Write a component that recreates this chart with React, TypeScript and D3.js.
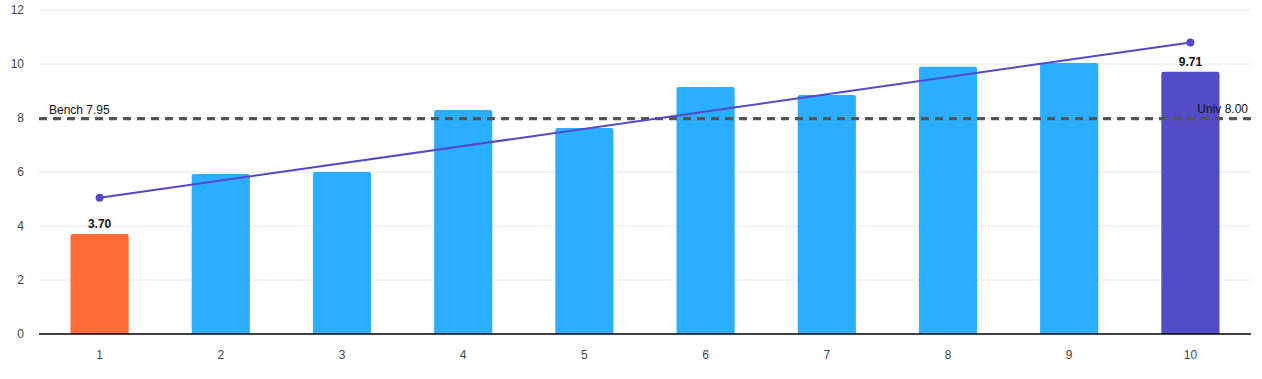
import React from "react";
import * as d3 from "d3";

const categories = ["1", "2", "3", "4", "5", "6", "7", "8", "9", "10"];
const values = [3.7, 5.93, 6.0, 8.3, 7.63, 9.15, 8.85, 9.9, 10.04, 9.71];
const yTicks = [0, 2, 4, 6, 8, 10, 12];
const benchValue = 7.95;
const univValue = 8.0;
const labeledIdx = [0, 9];

const W = 1262;
const H = 379;
const M = { left: 39, right: 11, top: 10, bottom: 45 };

export default function App() {
  const x = d3
    .scaleBand<string>()
    .domain(categories)
    .range([M.left, W - M.right])
    .paddingInner(0.52)
    .paddingOuter(0.26);
  const y = d3.scaleLinear().domain([0, 12]).range([H - M.bottom, M.top]);

  const n = values.length;
  const xs = values.map((_, i) => i + 1);
  const mx = d3.mean(xs)!;
  const my = d3.mean(values)!;
  const slope =
    d3.sum(xs.map((xv, i) => (xv - mx) * (values[i] - my))) /
    d3.sum(xs.map((xv) => (xv - mx) ** 2));
  const icpt = my - slope * mx;
  const trend = [1, n].map((xv) => ({ cat: String(xv), v: icpt + slope * xv }));
  const cx = (c: string) => x(c)! + x.bandwidth() / 2;

  const colorFor = (i: number) =>
    i === 0 ? "#FF6B35" : i === n - 1 ? "#524DC6" : "#2BAEFF";

  const barPath = (x0: number, y0: number, w: number, h: number, r: number) =>
    `M${x0},${y0 + h}V${y0 + r}Q${x0},${y0} ${x0 + r},${y0}H${x0 + w - r}Q${x0 + w},${y0} ${x0 + w},${y0 + r}V${y0 + h}Z`;

  const line = d3
    .line<{ cat: string; v: number }>()
    .x((d) => cx(d.cat))
    .y((d) => y(d.v));

  const font = "'Liberation Sans', Arial, sans-serif";

  return (
    <svg
      width={W}
      height={H}
      style={{ position: "absolute", left: 0, top: 0, background: "#fff" }}
      fontFamily={font}
    >
      {yTicks.map((t) => (
        <g key={t}>
          {t !== 0 && (
            <line x1={M.left} x2={W - M.right} y1={y(t)} y2={y(t)} stroke="#e6e6e6" strokeWidth={1} />
          )}
          <text x={24} y={y(t)} dy="0.35em" textAnchor="end" fontSize={12} fill="#444">
            {t}
          </text>
        </g>
      ))}
      {values.map((v, i) => {
        const c = categories[i];
        return (
          <path
            key={c}
            d={barPath(x(c)!, y(v), x.bandwidth(), y(0) - y(v), 2)}
            fill={colorFor(i)}
          />
        );
      })}
      <line x1={M.left} x2={W - M.right} y1={y(benchValue)} y2={y(benchValue)} stroke="#555" strokeWidth={2} strokeDasharray="8,6" />
      <line x1={M.left} x2={W - M.right} y1={y(univValue)} y2={y(univValue)} stroke="#555" strokeWidth={2} strokeDasharray="8,6" />
      <text x={49} y={y(benchValue) - 5} fontSize={12} fill="#111">
        {`Bench ${benchValue.toFixed(2)}`}
      </text>
      <text x={W - 14} y={y(univValue) - 5} fontSize={12} fill="#111" textAnchor="end">
        {`Univ ${univValue.toFixed(2)}`}
      </text>
      <path d={line(trend)!} fill="none" stroke="#5448C8" strokeWidth={2} />
      {trend.map((d) => (
        <circle key={d.cat} cx={cx(d.cat)} cy={y(d.v)} r={4} fill="#5448C8" />
      ))}
      {labeledIdx.map((i) => (
        <text
          key={i}
          x={cx(categories[i])}
          y={y(values[i]) - 6}
          textAnchor="middle"
          fontSize={12}
          fontWeight="bold"
          fill="#111"
        >
          {values[i].toFixed(2)}
        </text>
      ))}
      <line x1={M.left} x2={W - M.right} y1={y(0)} y2={y(0)} stroke="#000" strokeWidth={1.5} />
      {categories.map((c) => (
        <text key={c} x={cx(c)} y={y(0) + 25} textAnchor="middle" fontSize={12} fill="#444">
          {c}
        </text>
      ))}
    </svg>
  );
}
